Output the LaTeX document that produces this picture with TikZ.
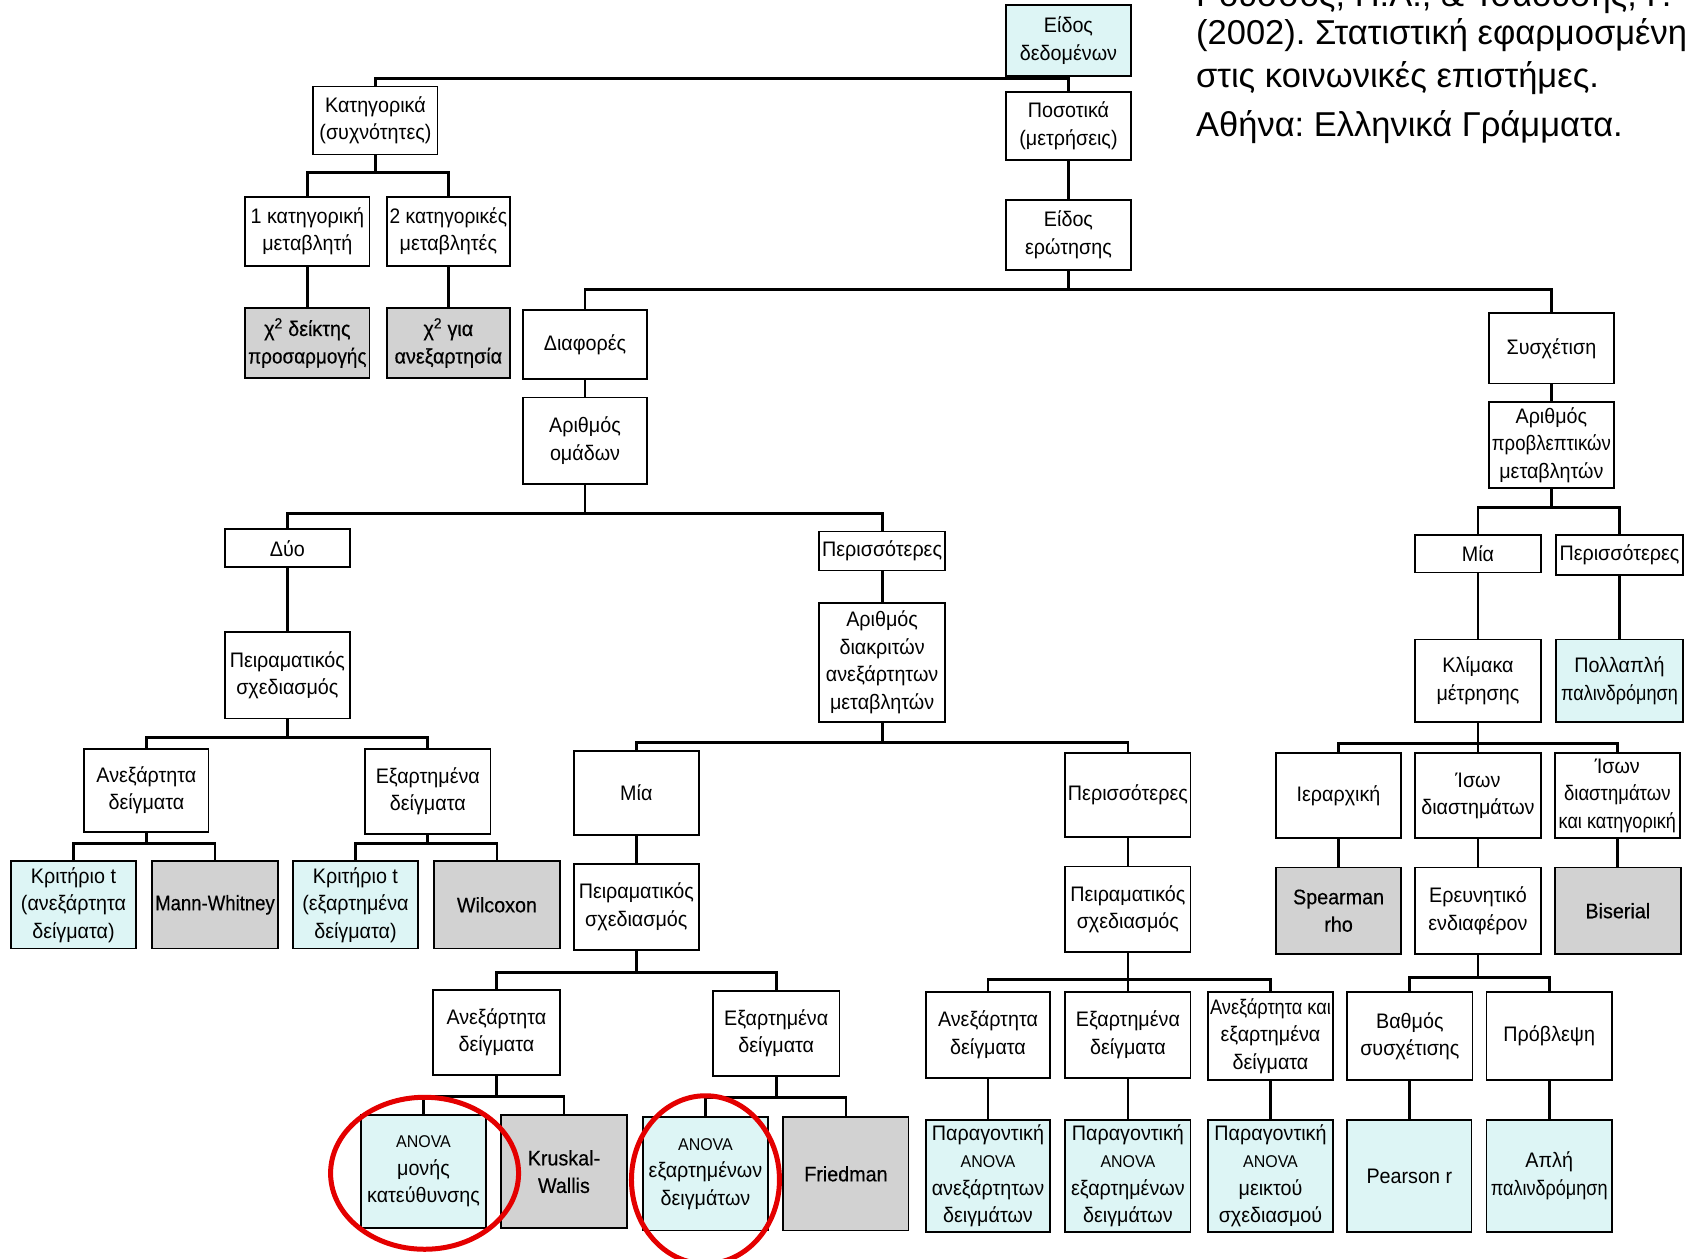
\documentclass[tikz,border=0pt]{standalone}
\usepackage{fontspec}
\usepackage{graphicx}
\setmainfont{Liberation Sans}
\frenchspacing
\newfontfamily\boxfam[FakeStretch=0.94]{Liberation Sans}
\newfontfamily\grayfam[FakeStretch=0.94,FakeBold=0.4]{Liberation Sans}
\definecolor{cyanbox}{RGB}{221,245,245}
\definecolor{graybox}{RGB}{210,210,210}
\definecolor{circ}{RGB}{228,0,0}
\tikzset{
 plain/.style={draw=black, line width=1.8pt, fill=white, align=center, inner sep=0pt, font=\boxfam\fontsize{21}{27.5}\selectfont},
 cyanb/.style={plain, fill=cyanbox},
 grayb/.style={plain, fill=graybox, font=\grayfam\fontsize{21}{27.5}\selectfont},
 conn/.style={draw=black, line width=2.8pt},
 ring/.style={draw=circ, line width=5pt},
 cite/.style={anchor=base west, inner sep=0pt, font=\fontsize{34.5}{40}\selectfont},
}
\newcommand{\mybox}[7]{%
  \pgfmathsetmacro{\bw}{(#5-#3)*1.0804}%
  \pgfmathsetmacro{\bh}{(#6-#4)*1.0804}%
  \pgfmathsetmacro{\bcx}{(#3+#5)/2}%
  \pgfmathsetmacro{\bcy}{(#4+#6)/2}%
  \node[#2, minimum width=\bw pt, minimum height=\bh pt] (#1) at (\bcx,\bcy) {#7};%
}
\newcommand{\link}[3]{\draw[conn] (#1.south) |- (#2.north |- 0,#3) -- (#2.north);}
\newcommand{\vlink}[2]{\draw[conn] (#1.south) -- (#1.south |- #2.north);}
\newcommand{\sm}{\fontsize{17}{27.5}\selectfont}
\newcommand{\hs}[2]{\scalebox{#1}[1]{#2}}
\begin{document}
\begin{tikzpicture}[x=1.0804pt, y=-1.0804pt]
\useasboundingbox (0,0) rectangle (1568,1165);
\fill[white] (0,0) rectangle (1568,1165);
\clip (0,0) rectangle (1568,1165);

% citation
\node[cite] (cit1) at (1107,6) {Ρούσσος, Π.Λ., \& Τσαούσης, Γ.};
\node[cite] (cit2) at (1107,41) {(2002). Στατιστική εφαρμοσμένη};
\node[cite] (cit3) at (1107,81) {στις κοινωνικές επιστήμες.};
\node[cite] (cit4) at (1107,126) {Αθήνα: Ελληνικά Γράμματα.};

% boxes
\mybox{d0}{cyanb}{931}{5}{1047}{70}{Είδος\\δεδομένων}
\mybox{kat}{plain}{290}{80}{405}{143}{Κατηγορικά\\(συχνότητες)}
\mybox{pos}{plain}{931}{85}{1047}{148}{Ποσοτικά\\(μετρήσεις)}
\mybox{k1}{plain}{227}{182}{342}{246}{1 κατηγορική\\μεταβλητή}
\mybox{k2}{plain}{358}{182}{472}{246}{\hs{0.97}{2 κατηγορικές}\\μεταβλητές}
\mybox{eid}{plain}{931}{185}{1047}{250}{Είδος\\ερώτησης}
\mybox{chi1}{grayb}{227}{285}{342}{350}{χ\textsuperscript{2} δείκτης\\\hs{0.96}{προσαρμογής}}
\mybox{chi2}{grayb}{358}{285}{472}{350}{χ\textsuperscript{2} για\\ανεξαρτησία}
\mybox{diaf}{plain}{484}{287}{599}{351}{Διαφορές}
\mybox{sysx}{plain}{1378}{290}{1494}{355}{Συσχέτιση}
\mybox{arom}{plain}{484}{368}{599}{448}{Αριθμός\\ομάδων}
\mybox{aprob}{plain}{1378}{372}{1494}{452}{Αριθμός\\\hs{0.94}{προβλεπτικών}\\μεταβλητών}
\mybox{dyo}{plain}{208}{490}{324}{525}{Δύο}
\mybox{per1}{plain}{758}{492}{875}{528}{Περισσότερες}
\mybox{mia3}{plain}{1310}{495}{1426}{530}{Μία}
\mybox{per3}{plain}{1440}{495}{1558}{532}{Περισσότερες}
\mybox{adiak}{plain}{758}{558}{875}{668}{Αριθμός\\διακριτών\\ανεξάρτητων\\μεταβλητών}
\mybox{peir1}{plain}{208}{585}{324}{665}{Πειραματικός\\σχεδιασμός}
\mybox{klim}{plain}{1310}{592}{1426}{668}{Κλίμακα\\μέτρησης}
\mybox{poll}{cyanb}{1440}{592}{1558}{668}{Πολλαπλή\\\hs{0.915}{παλινδρόμηση}}
\mybox{anex1}{plain}{78}{693}{193}{770}{Ανεξάρτητα\\δείγματα}
\mybox{exar1}{plain}{338}{693}{454}{772}{Εξαρτημένα\\δείγματα}
\mybox{mia2}{plain}{531}{695}{647}{773}{Μία}
\mybox{per2}{plain}{986}{697}{1102}{775}{Περισσότερες}
\mybox{ier}{plain}{1181}{697}{1297}{776}{Ιεραρχική}
\mybox{isa}{plain}{1310}{697}{1426}{776}{Ίσων\\διαστημάτων}
\mybox{isk}{plain}{1439}{697}{1555}{776}{Ίσων\\\hs{0.94}{διαστημάτων}\\\hs{0.915}{και κατηγορική}}
\mybox{kt1}{cyanb}{10}{797}{126}{878}{Κριτήριο t\\(ανεξάρτητα\\δείγματα)}
\mybox{mw}{grayb}{141}{797}{257}{878}{\hs{0.94}{Mann-Whitney}}
\mybox{kt2}{cyanb}{271}{797}{387}{878}{Κριτήριο t\\(εξαρτημένα\\δείγματα)}
\mybox{wil}{grayb}{402}{797}{518}{878}{Wilcoxon}
\mybox{peir2}{plain}{531}{800}{647}{879}{Πειραματικός\\σχεδιασμός}
\mybox{peir3}{plain}{986}{802}{1102}{881}{Πειραματικός\\σχεδιασμός}
\mybox{spear}{grayb}{1181}{803}{1297}{883}{Spearman\\rho}
\mybox{ereyn}{plain}{1310}{803}{1426}{883}{Ερευνητικό\\ενδιαφέρον}
\mybox{bis}{grayb}{1439}{803}{1556}{883}{Biserial}
\mybox{anex2}{plain}{401}{916}{518}{995}{Ανεξάρτητα\\δείγματα}
\mybox{exar2}{plain}{660}{917}{777}{996}{Εξαρτημένα\\δείγματα}
\mybox{anex3}{plain}{857}{918}{972}{998}{Ανεξάρτητα\\δείγματα}
\mybox{exar3}{plain}{986}{918}{1102}{998}{Εξαρτημένα\\δείγματα}
\mybox{anexar3}{plain}{1118}{918}{1234}{1000}{\hs{0.925}{Ανεξάρτητα και}\\εξαρτημένα\\δείγματα}
\mybox{vath}{plain}{1247}{918}{1363}{1000}{Βαθμός\\συσχέτισης}
\mybox{prob}{plain}{1376}{918}{1492}{1000}{Πρόβλεψη}
\mybox{anova1}{cyanb}{334}{1032}{450}{1137}{{\sm ANOVA}\\μονής\\κατεύθυνσης}
\mybox{kw}{grayb}{464}{1032}{580}{1137}{Kruskal-\\Wallis}
\mybox{anova2}{cyanb}{595}{1034}{711}{1139}{{\sm ANOVA}\\εξαρτημένων\\δειγμάτων}
\mybox{fried}{grayb}{725}{1034}{841}{1139}{Friedman}
\mybox{par1}{cyanb}{857}{1037}{972}{1140}{Παραγοντική\\{\sm ANOVA}\\ανεξάρτητων\\δειγμάτων}
\mybox{par2}{cyanb}{986}{1037}{1102}{1140}{Παραγοντική\\{\sm ANOVA}\\εξαρτημένων\\δειγμάτων}
\mybox{par3}{cyanb}{1118}{1037}{1234}{1140}{Παραγοντική\\{\sm ANOVA}\\μεικτού\\σχεδιασμού}
\mybox{pear}{cyanb}{1247}{1037}{1362}{1140}{Pearson r}
\mybox{apli}{cyanb}{1376}{1037}{1492}{1140}{Απλή\\\hs{0.915}{παλινδρόμηση}}

% connectors
\link{d0}{kat}{73}
\link{d0}{pos}{73}
\link{kat}{k1}{160}
\link{kat}{k2}{160}
\vlink{k1}{chi1}
\vlink{k2}{chi2}
\vlink{pos}{eid}
\link{eid}{diaf}{268}
\link{eid}{sysx}{268}
\vlink{diaf}{arom}
\vlink{sysx}{aprob}
\link{arom}{dyo}{475}
\link{arom}{per1}{475}
\vlink{dyo}{peir1}
\vlink{per1}{adiak}
\link{aprob}{mia3}{470}
\link{aprob}{per3}{470}
\vlink{mia3}{klim}
\vlink{per3}{poll}
\link{peir1}{anex1}{683}
\link{peir1}{exar1}{683}
\link{anex1}{kt1}{781}
\link{anex1}{mw}{781}
\link{exar1}{kt2}{781}
\link{exar1}{wil}{781}
\link{adiak}{mia2}{687}
\link{adiak}{per2}{687}
\vlink{mia2}{peir2}
\vlink{per2}{peir3}
\link{klim}{ier}{688}
\link{klim}{isa}{688}
\link{klim}{isk}{688}
\vlink{ier}{spear}
\vlink{isa}{ereyn}
\vlink{isk}{bis}
\link{peir2}{anex2}{900}
\link{peir2}{exar2}{900}
\link{peir3}{anex3}{907}
\link{peir3}{exar3}{907}
\link{peir3}{anexar3}{907}
\link{ereyn}{vath}{905}
\link{ereyn}{prob}{905}
\link{anex2}{anova1}{1015}
\link{anex2}{kw}{1015}
\link{exar2}{anova2}{1016}
\link{exar2}{fried}{1016}
\vlink{anex3}{par1}
\vlink{exar3}{par2}
\vlink{anexar3}{par3}
\vlink{vath}{pear}
\vlink{prob}{apli}

% red rings
\draw[ring] (393,1086) ellipse [x radius=94pt, y radius=76pt];
\draw[ring] (653,1092) ellipse [x radius=74pt, y radius=84pt];
\end{tikzpicture}
\end{document}
